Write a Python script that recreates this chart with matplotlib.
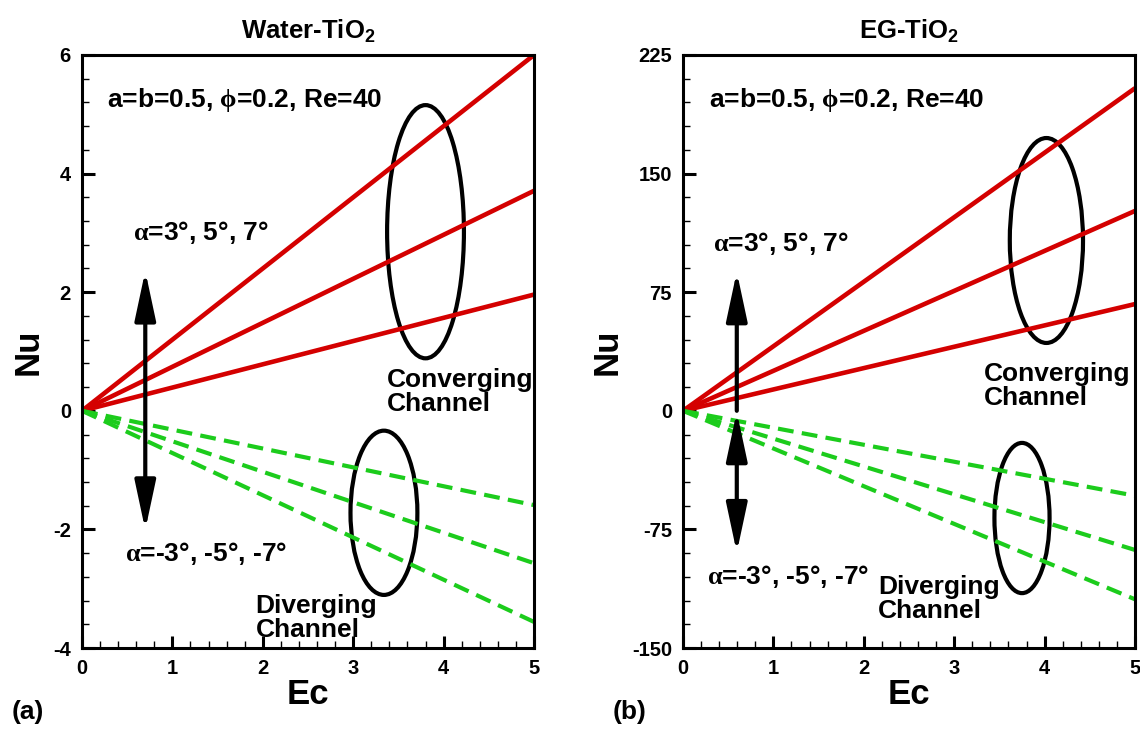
import matplotlib
matplotlib.use("Agg")
import matplotlib.pyplot as plt
from matplotlib.patches import Ellipse
from matplotlib.ticker import MultipleLocator

plt.rcParams['font.family'] = ['Liberation Sans', 'DejaVu Sans']
plt.rcParams['font.weight'] = 'bold'
plt.rcParams['axes.unicode_minus'] = False
plt.rcParams['mathtext.fontset'] = 'custom'
plt.rcParams['mathtext.rm'] = 'Liberation Sans:bold'
plt.rcParams['mathtext.sf'] = 'Liberation Serif'
plt.rcParams['mathtext.default'] = 'rm'

# Eckert number
ec = [0, 5]

# (a) Water-TiO2, Nu
water_conv_3 = [0, 1.96]
water_conv_5 = [0, 3.71]
water_conv_7 = [0, 6.0]
water_div_3 = [0, -1.59]
water_div_5 = [0, -2.57]
water_div_7 = [0, -3.56]

# (b) EG-TiO2
eg_conv_3 = [0, 67.5]
eg_conv_5 = [0, 126.4]
eg_conv_7 = [0, 204.0]
eg_div_3 = [0, -53.7]
eg_div_5 = [0, -88.0]
eg_div_7 = [0, -119.2]

titles = ['Water-TiO$_2$', 'EG-TiO$_2$']
ylims = [(-4, 6), (-150, 225)]
ymajor = [2, 75]
yminor = [0.4, 15]

params_txt = 'a=b=0.5, $\\mathsf{ϕ}$=0.2, Re=40'
conv_txt = '$\\mathsf{α}$=3°, 5°, 7°'
div_txt = '$\\mathsf{α}$=-3°, -5°, -7°'

red = '#d40000'
green = '#1ccc1c'

fig = plt.figure(figsize=(11.4, 7.29), dpi=100)
ax1 = fig.add_axes([82 / 1140, 81 / 729, 452 / 1140, 593 / 729])
ax2 = fig.add_axes([683 / 1140, 81 / 729, 452 / 1140, 593 / 729])

conv = [[water_conv_3, water_conv_5, water_conv_7], [eg_conv_3, eg_conv_5, eg_conv_7]]
div = [[water_div_3, water_div_5, water_div_7], [eg_div_3, eg_div_5, eg_div_7]]

for i, ax in enumerate([ax1, ax2]):
    for y in conv[i]:
        ax.plot(ec, y, color=red, lw=3.3, solid_capstyle='butt')
    for y in div[i]:
        ax.plot(ec, y, color=green, lw=3.0, linestyle=(0, (3.8, 2.0)))
    ax.set_xlim(0, 5)
    ax.set_ylim(*ylims[i])
    ax.xaxis.set_major_locator(MultipleLocator(1))
    ax.xaxis.set_minor_locator(MultipleLocator(0.2))
    ax.yaxis.set_major_locator(MultipleLocator(ymajor[i]))
    ax.yaxis.set_minor_locator(MultipleLocator(yminor[i]))
    ax.tick_params(which='both', direction='in', top=False, right=False, labelsize=14.5)
    ax.tick_params(which='major', length=9, width=2.2, pad=8)
    ax.tick_params(which='minor', length=5, width=1.0)
    for s in ax.spines.values():
        s.set_linewidth(2.2)
    ax.set_title(titles[i], fontsize=18.5, fontweight='bold', pad=12)
    ax.set_xlabel('Ec', fontsize=25, fontweight='bold', labelpad=0)
    ax.set_ylabel('Nu', fontsize=25, fontweight='bold', labelpad=6)

fs = 19
# annotations panel (a)
ax1.text(0.28, 5.24, params_txt, fontsize=fs, va='center', ha='left')
ax1.text(0.56, 3.0, conv_txt, fontsize=fs, va='center', ha='left')
ax1.text(0.48, -2.41, div_txt, fontsize=fs, va='center', ha='left')
ax1.text(3.37, 0.32, 'Converging\nChannel', fontsize=fs, va='center', ha='left', linespacing=1.0)
ax1.text(1.92, -3.5, 'Diverging\nChannel', fontsize=fs, va='center', ha='left', linespacing=1.0)
ax1.add_patch(Ellipse((3.8, 3.02), 0.85, 4.27, fill=False, lw=3, ec='black'))
ax1.add_patch(Ellipse((3.34, -1.72), 0.74, 2.77, fill=False, lw=3, ec='black'))
ax1.annotate('', xy=(0.7, 2.36), xytext=(0.7, -2.01),
             arrowprops=dict(arrowstyle='<|-|>,head_length=0.75,head_width=0.16',
                             mutation_scale=40, lw=3, color='black',
                             shrinkA=0, shrinkB=0))

# annotations panel (b)
ax2.text(0.29, 196.5, params_txt, fontsize=fs, va='center', ha='left')
ax2.text(0.33, 105.9, conv_txt, fontsize=fs, va='center', ha='left')
ax2.text(0.27, -104.9, div_txt, fontsize=fs, va='center', ha='left')
ax2.text(3.33, 15.8, 'Converging\nChannel', fontsize=fs, va='center', ha='left', linespacing=1.0)
ax2.text(2.16, -119.0, 'Diverging\nChannel', fontsize=fs, va='center', ha='left', linespacing=1.0)
ax2.add_patch(Ellipse((4.02, 107.7), 0.81, 129.6, fill=False, lw=3, ec='black'))
ax2.add_patch(Ellipse((3.75, -67.8), 0.61, 95.0, fill=False, lw=3, ec='black'))
ax2.annotate('', xy=(0.595, 88), xytext=(0.595, 0),
             arrowprops=dict(arrowstyle='-|>,head_length=0.75,head_width=0.16',
                             mutation_scale=40, lw=3, color='black',
                             shrinkA=0, shrinkB=0))
ax2.annotate('', xy=(0.595, -89.7), xytext=(0.595, -0.5),
             arrowprops=dict(arrowstyle='<|-|>,head_length=0.75,head_width=0.16',
                             mutation_scale=40, lw=3, color='black',
                             shrinkA=0, shrinkB=0))

fig.text(28 / 1140, 1 - 712 / 729, '(a)', fontsize=fs, ha='center', va='center')
fig.text(630 / 1140, 1 - 712 / 729, '(b)', fontsize=fs, ha='center', va='center')

fig.savefig('out.png', dpi=100)
